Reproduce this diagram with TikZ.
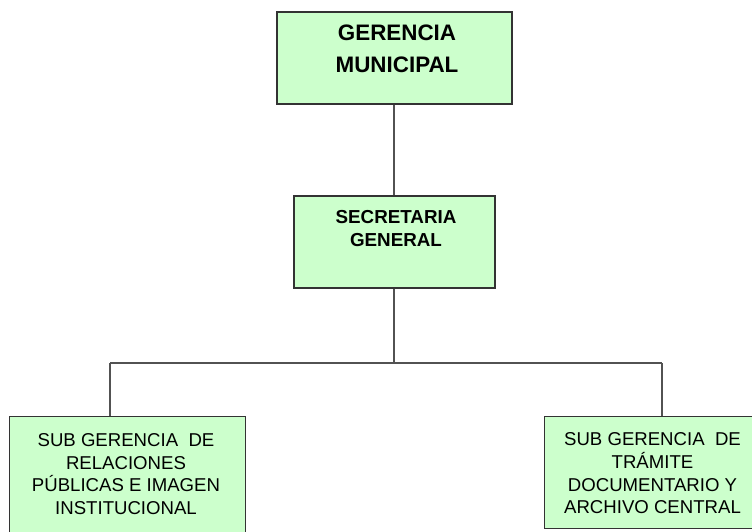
\documentclass[tikz,border=0pt]{standalone}
\usepackage{fontspec}
\setmainfont{Liberation Sans}
\definecolor{boxfill}{HTML}{CCFFCC}
\definecolor{edge}{HTML}{333333}
\begin{document}
\begin{tikzpicture}[x=1pt,y=-1pt,
  orgbox/.style={draw=edge, fill=boxfill, line width=1.3pt, inner sep=0pt},
  conn/.style={draw=edge!85, line width=1.3pt},
  toptxt/.style={align=center, inner sep=0pt, font={\fontsize{22.4}{32}\selectfont\bfseries}},
  sectxt/.style={align=center, inner sep=0pt, font={\fontsize{18.8}{23}\selectfont\bfseries}},
  subtxt/.style={align=center, inner sep=0pt, font={\fontsize{18.6}{22.7}\selectfont}}]
\useasboundingbox (0,0) rectangle (752,531);
\clip (0,0) rectangle (752,531);
\fill[white] (0,0) rectangle (752,531);

\node[orgbox, minimum width=235pt, minimum height=92pt] (gm) at (394.5,58) {};
\node[toptxt] (gmt) at (397,49) {GERENCIA\\MUNICIPAL};

\node[orgbox, minimum width=201pt, minimum height=92pt] (sg) at (394.5,242) {};
\node[sectxt] (sgt) at (396,228.5) {SECRETARIA\\GENERAL};

\node[orgbox, minimum width=236pt, minimum height=130pt, anchor=north west] (rp) at (9,416) {};
\node[subtxt] (rpt) at (126,474) {SUB GERENCIA\ \ DE\\RELACIONES\\PÚBLICAS E IMAGEN\\INSTITUCIONAL};

\node[orgbox, minimum width=217pt, minimum height=112pt, anchor=north west] (td) at (544,416) {};
\node[subtxt] (tdt) at (652.5,473.5) {SUB GERENCIA\ \ DE\\TRÁMITE\\DOCUMENTARIO Y\\ARCHIVO CENTRAL};

\coordinate (bar) at (394,363);
\coordinate (barL) at (110,363);
\coordinate (barR) at (662,363);

\draw[conn] (gm.south -| bar) -- (sg.north -| bar);
\draw[conn] (sg.south -| bar) -- (bar);
\draw[conn] (barL) -- (barR);
\draw[conn] (barL) -- (rp.north -| barL);
\draw[conn] (barR) -- (td.north -| barR);
\end{tikzpicture}
\end{document}
